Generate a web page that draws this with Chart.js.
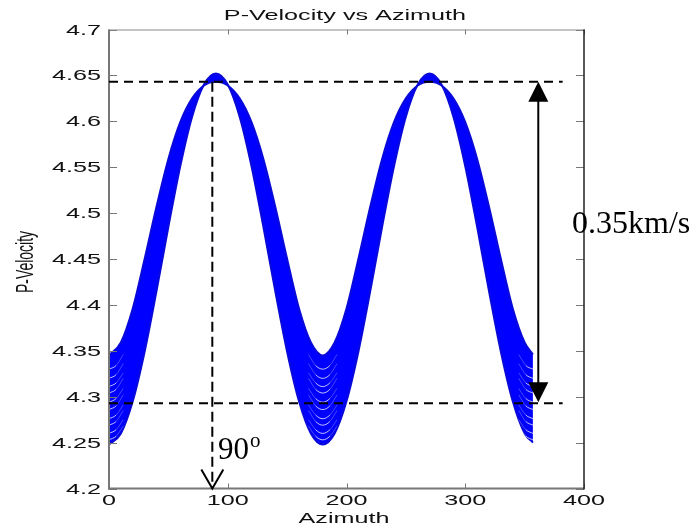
<!DOCTYPE html>
<html>
<head>
<meta charset="utf-8">
<title>P-Velocity vs Azimuth</title>
<script src="https://cdn.jsdelivr.net/npm/chart.js@4.4.0/dist/chart.umd.min.js"></script>
<style>
  html, body { margin: 0; padding: 0; background: #fff; }
  canvas { display: block; }
</style>
</head>
<body>
<canvas id="velocityChart" width="694" height="527"></canvas>
<script>
// azimuth (deg) where the two edges of the band were read
const azimuth = [0, 10, 20, 30, 40, 50, 60, 70, 80, 90, 100, 110, 120, 130, 140, 150, 160, 170, 180,
  190, 200, 210, 220, 230, 240, 250, 260, 270, 280, 290, 300, 310, 320, 330, 340, 350, 357];

// lowest curve of the band (km/s)
const lowerCurve = [4.248, 4.260, 4.295, 4.349, 4.415, 4.485, 4.551, 4.605, 4.640, 4.652,
  4.640, 4.605, 4.551, 4.485, 4.415, 4.349, 4.295, 4.260, 4.248,
  4.260, 4.295, 4.349, 4.415, 4.485, 4.551, 4.605, 4.640, 4.652,
  4.640, 4.605, 4.551, 4.485, 4.415, 4.349, 4.295, 4.260, 4.250];

// highest curve of the band (km/s)
const upperCurve = [4.345, 4.359, 4.396, 4.450, 4.507, 4.559, 4.599, 4.625, 4.639, 4.643,
  4.639, 4.625, 4.599, 4.559, 4.507, 4.450, 4.396, 4.359, 4.345,
  4.359, 4.396, 4.450, 4.507, 4.559, 4.599, 4.625, 4.639, 4.643,
  4.639, 4.625, 4.599, 4.559, 4.507, 4.450, 4.396, 4.359, 4.346];

// thin gaps between the single curves, seen in the troughs
const arcOffsets = [-12, -6, 0, 6, 12];
const troughs = [0, 180, 357];
const troughArcs = [
  [4.268, 4.257, 4.253, 4.257, 4.268],
  [4.275, 4.264, 4.260, 4.264, 4.275],
  [4.285, 4.273, 4.269, 4.273, 4.285],
  [4.291, 4.280, 4.276, 4.280, 4.291],
  [4.302, 4.290, 4.286, 4.290, 4.302],
  [4.309, 4.298, 4.294, 4.298, 4.309],
  [4.320, 4.308, 4.304, 4.308, 4.320],
  [4.326, 4.315, 4.311, 4.315, 4.326],
  [4.336, 4.324, 4.320, 4.324, 4.336],
  [4.346, 4.334, 4.330, 4.334, 4.346]
];

const xTicks = [0, 100, 200, 300, 400];
const yTicks = [4.2, 4.25, 4.3, 4.35, 4.4, 4.45, 4.5, 4.55, 4.6, 4.65, 4.7];

// annotation marks
const refHigh = 4.643;
const refLow = 4.293;
const refAzimuth = 87;
const refLineEnd = 382;
const arrowAzimuth = 361.5;

const FONT = '"Liberation Sans", Arial, sans-serif';
const STRETCH = 1.8;

function wideText(ctx, text, x, y, align) {
  ctx.save();
  ctx.translate(x, y);
  ctx.scale(STRETCH, 1);
  ctx.textAlign = align;
  ctx.textBaseline = 'alphabetic';
  ctx.fillText(text, 0, 0);
  ctx.restore();
}

function line(ctx, x1, y1, x2, y2) {
  ctx.beginPath();
  ctx.moveTo(x1, y1);
  ctx.lineTo(x2, y2);
  ctx.stroke();
}

// box, inward ticks, labels and the dashed guides
const matlabAxes = {
  id: 'matlabAxes',
  afterDatasetsDraw(chart) {
    const ctx = chart.ctx;
    const a = chart.chartArea;
    const xs = chart.scales.x;
    const ys = chart.scales.y;

    ctx.save();
    ctx.strokeStyle = '#777';
    ctx.lineWidth = 1;
    yTicks.forEach(v => {
      const py = Math.round(ys.getPixelForValue(v)) + 0.5;
      line(ctx, a.left, py, a.left + 8, py);
      line(ctx, a.right - 8, py, a.right, py);
    });
    xTicks.forEach(v => {
      const px = Math.round(xs.getPixelForValue(v)) + 0.5;
      line(ctx, px, a.bottom, px, a.bottom - 5);
      line(ctx, px, a.top, px, a.top + 5);
    });

    ctx.strokeStyle = '#8a8a8a';
    line(ctx, a.left, a.top + 0.5, a.right, a.top + 0.5);
    ctx.lineWidth = 2;
    ctx.strokeStyle = '#777';
    line(ctx, a.left, a.top, a.left, a.bottom + 1);
    line(ctx, a.left - 1, a.bottom, a.right, a.bottom);
    ctx.lineWidth = 1.5;
    ctx.strokeStyle = '#222';
    line(ctx, a.right, a.top, a.right, a.bottom + 1);

    // tick labels
    ctx.fillStyle = '#111';
    ctx.font = '14px ' + FONT;
    yTicks.forEach(v => {
      wideText(ctx, String(Number(v.toFixed(2))), 101, ys.getPixelForValue(v) + 5, 'right');
    });
    xTicks.forEach(v => {
      wideText(ctx, String(v), xs.getPixelForValue(v), 505, 'center');
    });

    // titles
    wideText(ctx, 'P-Velocity vs Azimuth', 345, 20, 'center');
    wideText(ctx, 'Azimuth', 344, 523, 'center');
    ctx.save();
    ctx.translate(33, 262);
    ctx.rotate(-Math.PI / 2);
    ctx.scale(1, 1.65);
    ctx.textAlign = 'center';
    ctx.textBaseline = 'alphabetic';
    ctx.fillText('P-Velocity', 0, 0);
    ctx.restore();

    // dashed guides
    const yHigh = ys.getPixelForValue(refHigh);
    const yLow = ys.getPixelForValue(refLow);
    const xEnd = xs.getPixelForValue(refLineEnd);
    const xRef = xs.getPixelForValue(refAzimuth);
    const xArrow = xs.getPixelForValue(arrowAzimuth);
    ctx.strokeStyle = '#000';
    ctx.lineWidth = 2;
    ctx.setLineDash([9, 6]);
    line(ctx, a.left, yHigh, xEnd, yHigh);
    line(ctx, a.left, yLow, xEnd, yLow);
    ctx.setLineDash([10, 5]);
    line(ctx, xRef, yHigh, xRef, a.bottom);
    ctx.setLineDash([]);

    // open arrow head on the 90 degree guide
    ctx.beginPath();
    ctx.moveTo(xRef - 11, a.bottom - 19);
    ctx.lineTo(xRef, a.bottom);
    ctx.lineTo(xRef + 11, a.bottom - 19);
    ctx.stroke();

    // double arrow for the velocity range
    line(ctx, xArrow, yHigh + 15, xArrow, yLow - 15);
    ctx.fillStyle = '#000';
    ctx.beginPath();
    ctx.moveTo(xArrow, yHigh);
    ctx.lineTo(xArrow - 10, yHigh + 20);
    ctx.lineTo(xArrow + 10, yHigh + 20);
    ctx.closePath();
    ctx.fill();
    ctx.beginPath();
    ctx.moveTo(xArrow, yLow - 1);
    ctx.lineTo(xArrow - 10, yLow - 21);
    ctx.lineTo(xArrow + 10, yLow - 21);
    ctx.closePath();
    ctx.fill();

    ctx.font = '32px "Liberation Serif", "Times New Roman", serif';
    ctx.textAlign = 'left';
    ctx.textBaseline = 'alphabetic';
    ctx.fillText('0.35km/s', 572, 233);
    ctx.font = '31px "Liberation Serif", "Times New Roman", serif';
    ctx.fillText('90', 218, 459);
    ctx.font = '21px "Liberation Serif", "Times New Roman", serif';
    ctx.fillText('o', 250, 447);
    ctx.restore();
  }
};

function curveData(values) {
  return azimuth.map((az, i) => ({ x: az, y: values[i] }));
}

// outer pieces of an arc fade out so the gaps blend into the band
function arcSegmentColor(seg) {
  const d = Math.max(Math.abs(seg.p0.raw.off), Math.abs(seg.p1.raw.off));
  return d > 6 ? 'rgba(255,255,255,0.3)' : 'rgba(255,255,255,0.85)';
}

// white arcs are drawn on top of the filled band (lower order = drawn later)
function arcDatasets() {
  const sets = [];
  troughs.forEach(t => {
    troughArcs.forEach(arc => {
      const pts = [];
      arcOffsets.forEach((off, i) => {
        const az = t + off;
        if (az >= 0 && az <= 357) pts.push({ x: az, y: arc[i], off: off });
      });
      sets.push({
        data: pts,
        order: -1,
        borderColor: 'rgba(255,255,255,0.85)',
        borderWidth: 0.9,
        pointRadius: 0,
        fill: false,
        cubicInterpolationMode: 'monotone',
        segment: { borderColor: arcSegmentColor }
      });
    });
  });
  return sets;
}

new Chart(document.getElementById('velocityChart'), {
  type: 'line',
  data: {
    datasets: [
      {
        data: curveData(lowerCurve),
        borderColor: '#0a0ad8',
        borderWidth: 2,
        pointRadius: 0,
        fill: false,
        cubicInterpolationMode: 'monotone'
      },
      {
        data: curveData(upperCurve),
        borderColor: '#0a0ad8',
        backgroundColor: '#0000ff',
        borderWidth: 2,
        pointRadius: 0,
        fill: '-1',
        cubicInterpolationMode: 'monotone'
      }
    ].concat(arcDatasets())
  },
  options: {
    responsive: false,
    animation: false,
    events: [],
    layout: { padding: { left: 109, top: 29.5, right: 110, bottom: 38.5 } },
    scales: {
      x: { type: 'linear', min: 0, max: 400, display: false },
      y: { type: 'linear', min: 4.2, max: 4.7, display: false }
    },
    plugins: {
      legend: { display: false },
      tooltip: { enabled: false }
    }
  },
  plugins: [matlabAxes]
});
</script>
</body>
</html>
